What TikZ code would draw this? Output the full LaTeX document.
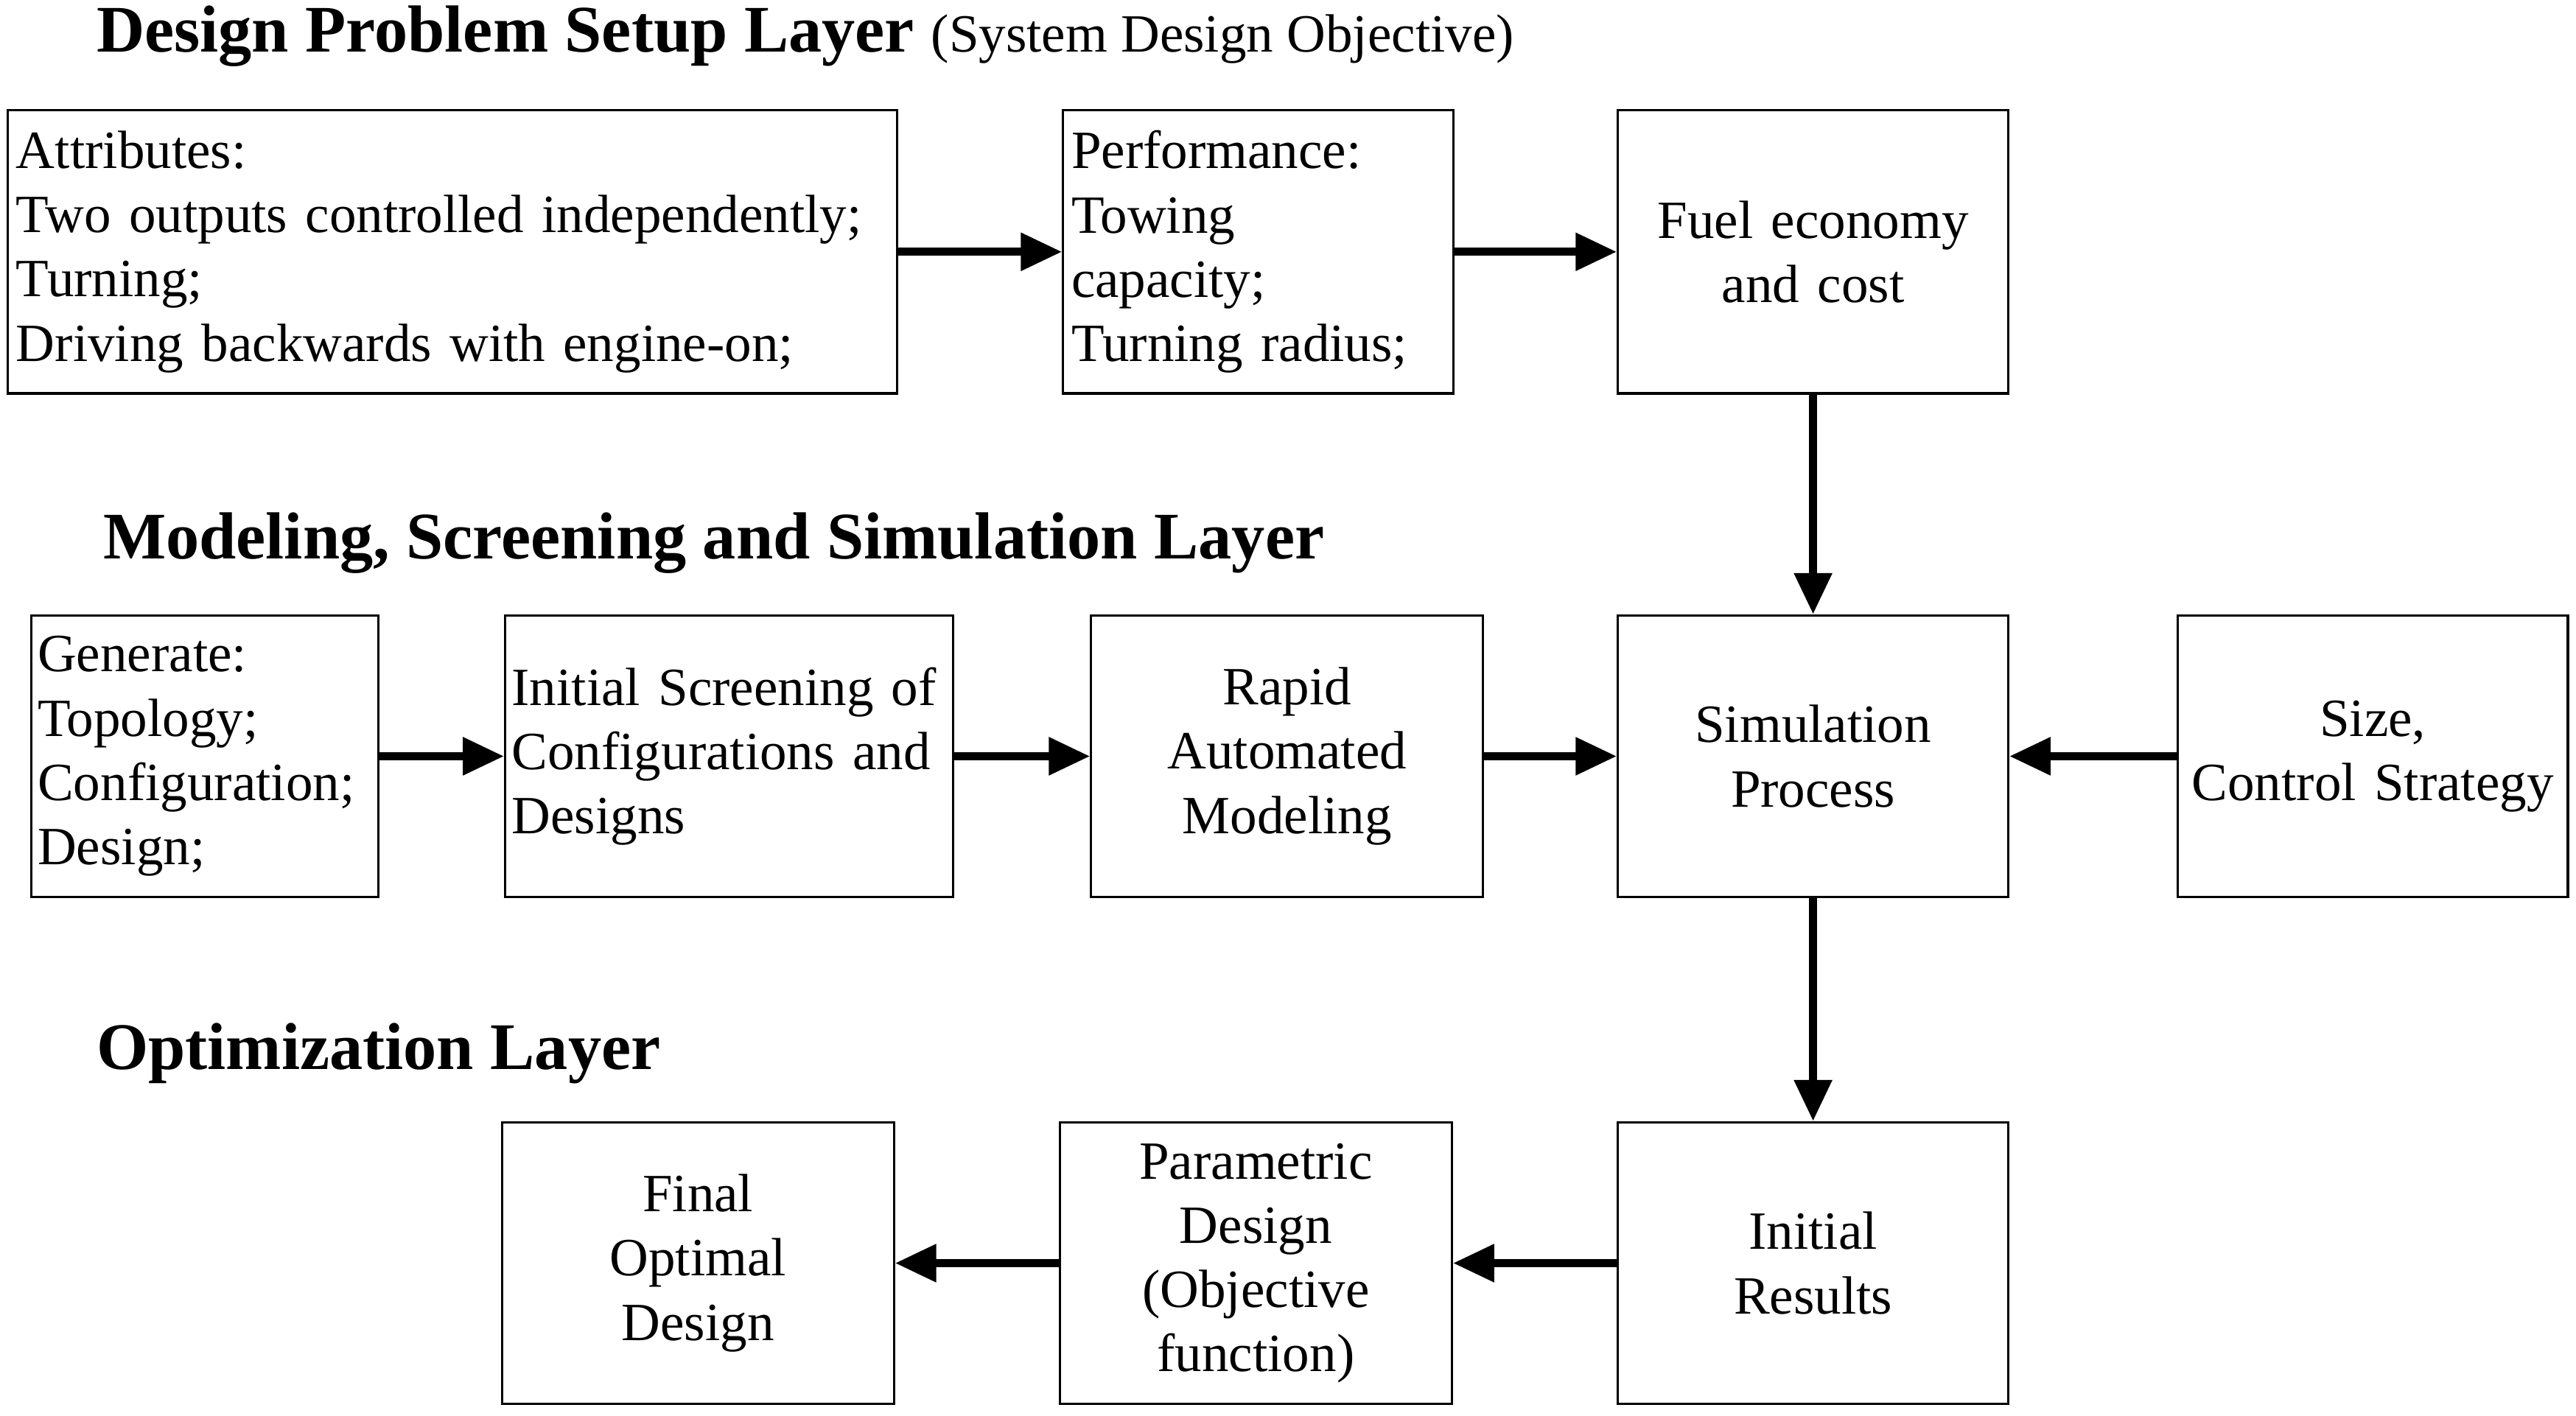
\documentclass[tikz,border=0pt]{standalone}
\usepackage{fontspec}
\setmainfont{Liberation Serif}
\usetikzlibrary{arrows.meta}
\begin{document}
\begin{tikzpicture}[x=0.01cm,y=-0.01cm,
  box/.style={draw,line width=0.4pt,inner sep=0pt,font=\fontsize{9.3}{11.1}\selectfont,align=center},
  lbox/.style={box,align=left},
  arr/.style={line width=0.5mm,-{Triangle[length=2.5mm,width=2.2mm]}},
  head/.style={font=\fontsize{11.5}{13}\selectfont\bfseries,anchor=west,inner sep=0pt}]
\useasboundingbox (0,0) rectangle (1565,860);
\newcommand{\bx}[7]{\node[#1,minimum width=#4mm,minimum height=#5mm,text width=#6mm] (#7) at (#2,#3) {#7text};}
% row 1
\node[lbox,minimum width=54mm,minimum height=17.2mm,text width=53mm] (a1) at (275,153) {Attributes:\\Two outputs controlled independently;\\Turning;\\Driving backwards with engine-on;};
\node[lbox,minimum width=23.7mm,minimum height=17.2mm,text width=22.7mm] (a2) at (764.5,153) {Performance:\\Towing\\capacity;\\Turning radius;};
\node[box,minimum width=23.7mm,minimum height=17.2mm,text width=22.7mm] (a3) at (1101.5,153) {Fuel economy\\and cost};
% row 2
\node[lbox,minimum width=21.1mm,minimum height=17.1mm,text width=20.3mm] (b1) at (124.5,459.5) {Generate:\\Topology;\\Configuration;\\Design;};
\node[lbox,minimum width=27.2mm,minimum height=17.1mm,text width=26.4mm] (b2) at (443,459.5) {Initial Screening of\\Configurations and\\Designs\\[-4pt]};
\node[box,minimum width=23.8mm,minimum height=17.1mm,text width=22.8mm] (b3) at (782,459.5) {Rapid\\Automated\\Modeling};
\node[box,minimum width=23.7mm,minimum height=17.1mm,text width=22.7mm] (b4) at (1101.5,459.5) {Simulation\\Process};
\node[box,minimum width=23.7mm,minimum height=17.1mm,text width=23.5mm] (b5) at (1441.5,459.5) {Size,\\Control Strategy};
% row 3
\node[box,minimum width=23.8mm,minimum height=17.1mm,text width=22.8mm] (c1) at (424,767.5) {Final\\Optimal\\Design};
\node[box,minimum width=23.8mm,minimum height=17.1mm,text width=22.8mm] (c2) at (763,767.5) {Parametric\\Design\\(Objective\\function)};
\node[box,minimum width=23.7mm,minimum height=17.1mm,text width=22.7mm] (c3) at (1101.5,767.5) {Initial\\Results};
% headings
\node[head] (h1) at (58,22) {Design Problem Setup Layer \fontsize{9.3}{11}\selectfont\mdseries(System Design Objective)};
\node[head] (h2) at (62,330) {Modeling, Screening and Simulation Layer};
\node[head] (h3) at (58,640) {Optimization Layer};
% arrows
\draw[arr] (a1.east) -- (a2.west);
\draw[arr] (a2.east) -- (a3.west);
\draw[arr] (a3.south) -- (b4.north);
\draw[arr] (b1.east) -- (b2.west);
\draw[arr] (b2.east) -- (b3.west);
\draw[arr] (b3.east) -- (b4.west);
\draw[arr] (b5.west) -- (b4.east);
\draw[arr] (b4.south) -- (c3.north);
\draw[arr] (c3.west) -- (c2.east);
\draw[arr] (c2.west) -- (c1.east);
\end{tikzpicture}
\end{document}
